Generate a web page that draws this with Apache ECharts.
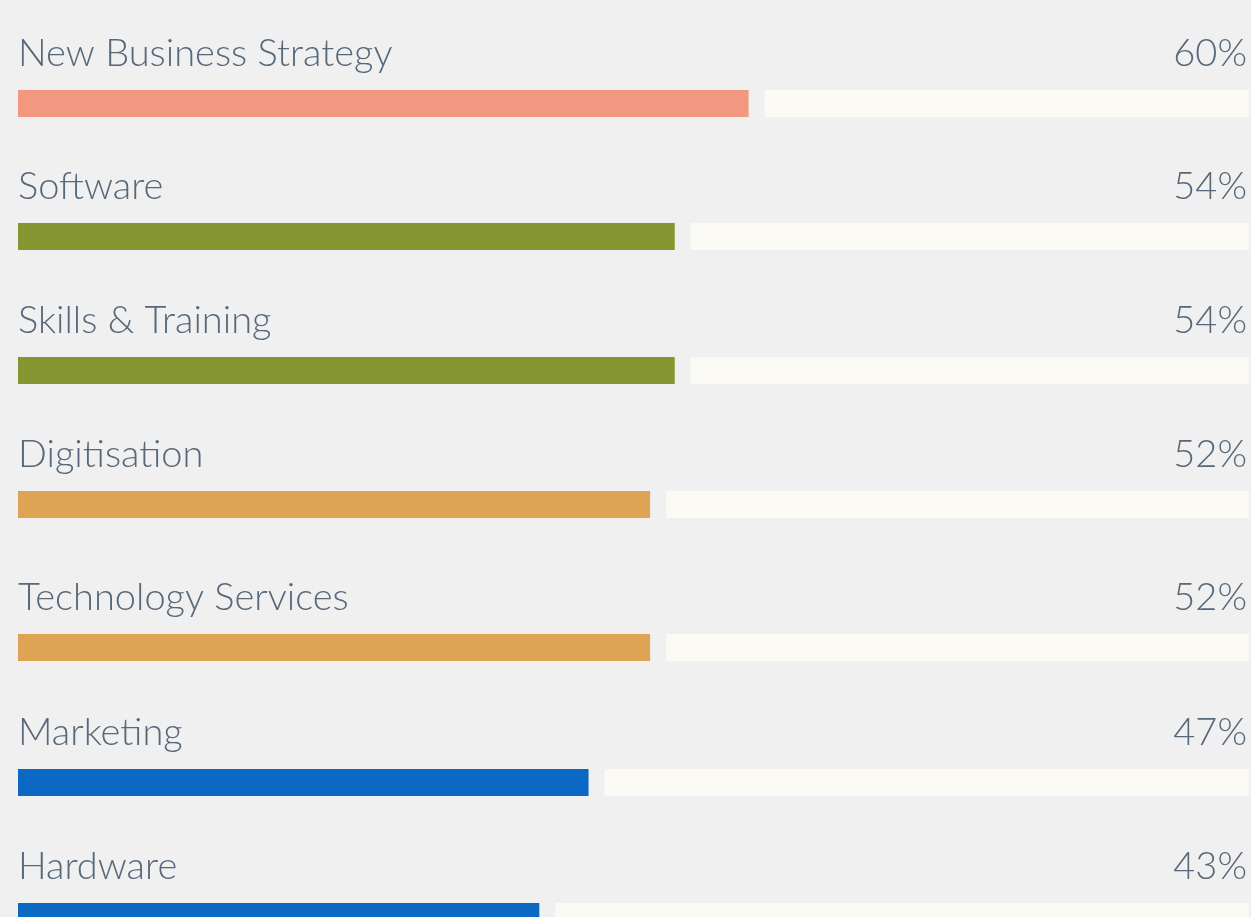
<!DOCTYPE html>
<html>
<head>
<meta charset="utf-8">
<title>Bars</title>
<script src="https://cdn.jsdelivr.net/npm/echarts@6/dist/echarts.min.js"></script>
<style>
  html, body { margin: 0; padding: 0; background: #f0f0f0; }
  #chart { width: 1251px; height: 917px; }
</style>
</head>
<body>
<div id="chart"></div>
<script>
// data
const categories = ['New Business Strategy', 'Software', 'Skills & Training', 'Digitisation', 'Technology Services', 'Marketing', 'Hardware']
const values = [60, 54, 54, 52, 52, 47, 43]
const barColors = ['#f29780', '#85952f', '#85952f', '#dca454', '#dca454', '#0b68c3', '#0b68c3']

// layout: top of each bar row (px), rows are not evenly spaced in the original
const rowTops = [90, 223, 357, 491, 634, 769, 903]
const barHeight = 27
const gap = 8          // half of the gap between bar and remainder
const textColor = '#56687a'
const fontFamily = 'Lato, "Open Sans", sans-serif'

const chart = echarts.init(document.getElementById('chart'))

const grids = []
const xAxes = []
const yAxes = []
const series = []

categories.forEach((name, i) => {
  grids.push({ left: 18, right: 2, top: rowTops[i], height: barHeight })
  xAxes.push({ gridIndex: i, type: 'value', min: 0, max: 100, show: false })
  yAxes.push({ gridIndex: i, type: 'category', data: [name], show: false })
  series.push({
    type: 'custom',
    xAxisIndex: i,
    yAxisIndex: i,
    data: [[values[i], 0]],
    renderItem: (params, api) => {
      const start = api.coord([0, 0])
      const end = api.coord([api.value(0), 0])
      const full = api.coord([100, 0])
      const h = api.size([0, 1])[1]
      const y = start[1] - h / 2
      return {
        type: 'group',
        children: [
          {
            type: 'rect',
            shape: { x: start[0], y: y, width: end[0] - gap - start[0], height: h },
            style: { fill: barColors[i] }
          },
          {
            type: 'rect',
            shape: { x: end[0] + gap, y: y, width: full[0] - end[0] - gap, height: h },
            style: { fill: '#fcfaf5' }
          },
          {
            type: 'text',
            x: start[0],
            y: y - 36,
            style: {
              text: name, fill: textColor, fontSize: 38, fontWeight: 300,
              fontFamily: fontFamily, align: 'left', verticalAlign: 'middle'
            }
          },
          {
            type: 'text',
            x: full[0] - 2,
            y: y - 36,
            style: {
              text: api.value(0) + '%', fill: textColor, fontSize: 38, fontWeight: 300,
              fontFamily: fontFamily, align: 'right', verticalAlign: 'middle'
            }
          }
        ]
      }
    }
  })
})

chart.setOption({
  backgroundColor: '#f0f0f0',
  animation: false,
  grid: grids,
  xAxis: xAxes,
  yAxis: yAxes,
  series: series
})
</script>
</body>
</html>
